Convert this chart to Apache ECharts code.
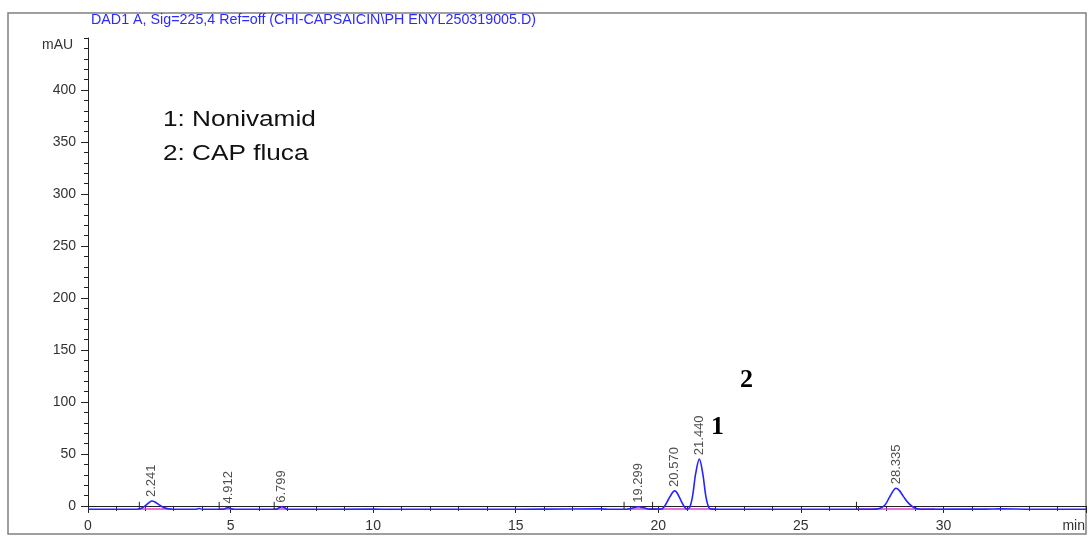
<!DOCTYPE html>
<html>
<head>
<meta charset="utf-8">
<script src="https://cdn.jsdelivr.net/npm/echarts@6/dist/echarts.min.js"></script>
<style>html,body{margin:0;padding:0;background:#fff;}#c{width:1091px;height:536px;}</style>
</head>
<body>
<div id="c"></div>
<script>
// ---- data ----
const titleText = 'DAD1 A, Sig=225,4 Ref=off (CHI-CAPSAICIN\\PH ENYL250319005.D)';
const yTickValues = [0, 50, 100, 150, 200, 250, 300, 350, 400];
const yMinorValues = [0,10,20,30,40,50,60,70,80,90,100,110,120,130,140,150,160,170,180,190,200,210,220,230,240,250,260,270,280,290,300,310,320,330,340,350,360,370,380,390,400,410,420,430,440,450];
const trace = [
  [0,-3.2],[1.7,-3.2],[1.85,-2.5],[2.0,0],[2.15,3.5],[2.24,4.8],[2.35,3.8],[2.5,1],[2.65,-1.5],[2.85,-2.9],[3.1,-3.2],
  [3.8,-3.1],[3.9,-2.4],[4.0,-3.2],[4.75,-3.2],[4.85,-2],[4.92,-1.5],[5.0,-2.5],[5.1,-3.2],
  [6.6,-3.2],[6.7,-1.8],[6.8,-0.8],[6.9,-1.8],[7.0,-3.2],[10.0,-3.0],[10.6,-3.3],[12,-3.1],[14.0,-3.2],[16,-3.0],[18.0,-2.8],[18.3,-3.2],
  [18.9,-3.2],[19.1,-2],[19.3,-0.8],[19.5,-1.8],[19.7,-3],[20.1,-3],
  [20.2,-1],[20.35,6],[20.5,13],[20.57,14.5],[20.65,13],[20.8,5],[20.92,-1],[21.0,-3],
  [21.1,-1.5],[21.2,9],[21.31,31],[21.44,45],[21.56,31],[21.67,9],[21.77,-1.5],[21.87,-3],[22.5,-3.2],
  [27.5,-3.2],[27.75,-2.4],[27.95,1],[28.1,8],[28.25,15],[28.335,17],[28.45,15],[28.6,9],[28.8,2],[29.0,-2],[29.2,-3.1],
  [31.5,-3],[32,-2.8],[33,-3.1],[35,-3.1]
];
const peakTimes = [2.241, 4.912, 6.799, 19.299, 20.570, 21.440, 28.335];
const peakHeights = [4.8, -1.5, -0.8, -0.8, 14.5, 45, 17];
const peakLabels = ['2.241', '4.912', '6.799', '19.299', '20.570', '21.440', '28.335'];
const baselineStarts = [1.75, 4.6, 6.5, 18.9, 26.95];
const baselineEnds = [2.95, 5.1, 7.0, 22.0, 29.7];
const baselineLevel = -3;
const markTimes = [1.8, 4.6, 6.53, 18.8, 19.8, 26.95];
const markTop = 4;
const legendLines = ['1: Nonivamid', '2: CAP fluca'];
const peakNumbers = ['2', '1'];

// ---- build ----
const baselineData = [];
baselineStarts.forEach((s, i) => { baselineData.push([s, baselineLevel], [baselineEnds[i], baselineLevel], '-'); });
const markData = [];
markTimes.forEach(t => { markData.push([t, baselineLevel], [t, markTop], '-'); });
const peakData = peakTimes.map((t, i) => ({ value: [t, peakHeights[i]], name: peakLabels[i] }));

const chart = echarts.init(document.getElementById('c'), null, { renderer: 'canvas' });
const axisFont = { fontFamily: 'Liberation Sans, Arial, sans-serif', fontSize: 14, color: '#333' };
chart.setOption({
  animation: false,
  grid: { left: 88, right: 5, top: 38, bottom: 26.6 },
  xAxis: {
    type: 'value', min: 0, max: 35, interval: 5,
    axisLine: { show: true, lineStyle: { color: '#222', width: 1 } },
    axisTick: { show: true, length: 7, inside: false, lineStyle: { color: '#222' } },
    minorTick: { show: true, splitNumber: 5, length: 5, lineStyle: { color: '#222' } },
    axisLabel: Object.assign({ margin: 10, formatter: v => v === 35 ? '' : String(v) }, axisFont),
    splitLine: { show: false }
  },
  yAxis: [{
    type: 'value', min: -3.3, max: 450, position: 'left',
    axisLine: { show: true, onZero: false, lineStyle: { color: '#222', width: 1 } },
    axisTick: { show: true, length: 7, customValues: yTickValues, lineStyle: { color: '#222' } },
    axisLabel: Object.assign({ margin: 12, customValues: yTickValues }, axisFont),
    splitLine: { show: false }
  }, {
    type: 'value', min: -3.3, max: 450, position: 'left',
    axisLine: { show: false },
    axisTick: { show: true, length: 4, customValues: yMinorValues, lineStyle: { color: '#222' } },
    axisLabel: { show: false },
    splitLine: { show: false }
  }],
  series: [
    {
      type: 'line', data: baselineData, symbol: 'none', connectNulls: false,
      lineStyle: { color: '#e040d0', width: 1.5 }, z: 2, silent: true
    },
    {
      type: 'line', data: trace, symbol: 'none', smooth: 0.35,
      lineStyle: { color: '#2424ff', width: 1.6 }, z: 3, silent: true
    },
    {
      type: 'line', data: markData, symbol: 'none', connectNulls: false,
      lineStyle: { color: '#222', width: 1 }, z: 4, silent: true
    },
    {
      type: 'scatter', data: peakData, symbolSize: 0, z: 5, silent: true,
      label: {
        show: true, position: 'top', rotate: 90, distance: 4,
        align: 'left', verticalAlign: 'middle',
        formatter: p => p.name,
        fontFamily: 'Liberation Sans, Arial, sans-serif', fontSize: 13, color: '#222'
      }
    }
  ],
  graphic: [
    { type: 'rect', shape: { x: 8, y: 13, width: 1078, height: 521 }, style: { fill: 'none', stroke: '#808080', lineWidth: 1.5 }, silent: true },
    { type: 'text', x: 91, y: 13, scaleX: 1.02, style: { text: titleText, fill: '#2b2bff', font: '14px "Liberation Sans", Arial, sans-serif' } },
    { type: 'text', left: 42, top: 38, style: { text: 'mAU', fill: '#333', font: '14px "Liberation Sans", Arial, sans-serif' } },
    { type: 'text', right: 6, top: 519, style: { text: 'min', fill: '#333', font: '14px "Liberation Sans", Arial, sans-serif' } },
    { type: 'text', x: 163, y: 109, scaleX: 1.19, style: { text: legendLines[0], fill: '#111', font: '22px "Liberation Sans", Arial, sans-serif' } },
    { type: 'text', x: 163, y: 143, scaleX: 1.19, style: { text: legendLines[1], fill: '#111', font: '22px "Liberation Sans", Arial, sans-serif' } },
    { type: 'text', x: 740, y: 367, style: { text: peakNumbers[0], fill: '#000', font: 'bold 26px "Liberation Serif", "Times New Roman", serif' } },
    { type: 'text', x: 711, y: 414, style: { text: peakNumbers[1], fill: '#000', font: 'bold 26px "Liberation Serif", "Times New Roman", serif' } }
  ]
});
</script>
</body>
</html>
